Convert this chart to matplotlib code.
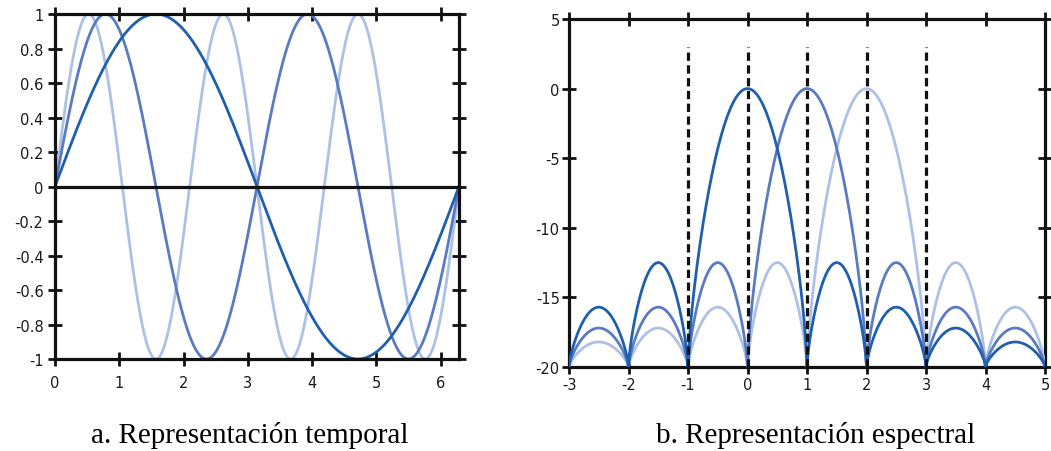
import numpy as np
import matplotlib.pyplot as plt

plt.rcParams['axes.unicode_minus'] = False
plt.rcParams['font.family'] = ['DejaVu Sans']

# señales temporales: sin(k t) para cada frecuencia
frecuencias = [1, 2, 3]
t_max = 2 * np.pi

# espectros: centro de cada lóbulo principal y niveles (dB) de los lóbulos
centros = [0, 1, 2]
niveles_lobulo = [0.0, -12.5, -15.7, -17.2, -18.2]  # principal, 1º, 2º, 3º, 4º secundario
piso_db = -20.0
lineas_guia = [-1, 0, 1, 2, 3]
tope_guia = 3.0

xt_a = [0, 1, 2, 3, 4, 5, 6]
yt_a = [-1, -0.8, -0.6, -0.4, -0.2, 0, 0.2, 0.4, 0.6, 0.8, 1]
yl_a = ['-1', '-0.8', '-0.6', '-0.4', '-0.2', '0', '0.2', '0.4', '0.6', '0.8', '1']
xt_b = [-3, -2, -1, 0, 1, 2, 3, 4, 5]
yt_b = [-20, -15, -10, -5, 0, 5]

colores = ['#1f5fae', '#5a7bc1', '#adc0e6']
grosor = 2.0


def lobulo(x0, x1, nivel, n=80):
    # arco entre dos nulos, con máximo en 'nivel'
    x = np.linspace(x0, x1, n)
    s = np.sin(np.pi * (x - x0) / (x1 - x0)).clip(0, 1) ** 0.7
    return x, piso_db + (nivel - piso_db) * s


def espectro(c, xmin, xmax):
    tramos = [lobulo(c - 1, c + 1, niveles_lobulo[0])]
    for k in range(1, len(niveles_lobulo)):
        for a in (c + k, c - k - 1):
            if a >= xmin and a + 1 <= xmax:
                tramos.append(lobulo(a, a + 1, niveles_lobulo[k]))
    tramos.sort(key=lambda p: p[0][0])
    x = np.concatenate([p[0] for p in tramos])
    y = np.concatenate([p[1] for p in tramos])
    return x, y


def estilo_ejes(ax, pad_x, pad_y):
    for s in ax.spines.values():
        s.set_linewidth(2.3)
        s.set_color('#111111')
    ax.tick_params(direction='inout', length=10.5, width=2.0, color='#111111',
                   top=True, right=True, labelsize=10.5, labelcolor='#1a1a1a')
    ax.tick_params(axis='x', pad=pad_x)
    ax.tick_params(axis='y', pad=pad_y)


fig = plt.figure(figsize=(10.51, 4.52), dpi=100)

# a. representación temporal
ax1 = fig.add_axes([0.0523, 0.2035, 0.3844, 0.7633])
t = np.linspace(0, t_max, 600)
for f, col in reversed(list(zip(frecuencias, colores))):
    ax1.plot(t, np.sin(f * t), color=col, lw=grosor, solid_capstyle='round')
ax1.axhline(0, color='#111111', lw=2.3, zorder=5)
ax1.set_xlim(0, t_max)
ax1.set_ylim(-1, 1)
ax1.set_xticks(xt_a)
ax1.set_yticks(yt_a)
ax1.set_yticklabels(yl_a)
estilo_ejes(ax1, 6, 3)

# b. representación espectral
ax2 = fig.add_axes([0.5414, 0.1858, 0.4529, 0.77])
for xg in lineas_guia:
    ax2.plot([xg, xg], [piso_db, tope_guia], color='#111111', lw=2.3,
             dashes=(2.6, 1.4), zorder=4)
for c, col in reversed(list(zip(centros, colores))):
    x, y = espectro(c, xt_b[0], xt_b[-1])
    ax2.plot(x, y, color=col, lw=grosor, zorder=3)
ax2.set_xlim(xt_b[0], xt_b[-1])
ax2.set_ylim(piso_db, 5)
ax2.set_xticks(xt_b)
ax2.set_yticks(yt_b)
estilo_ejes(ax2, 2, 1.5)

fig.text(250 / 1051, 1 - 436 / 452, 'a. Representación temporal',
         family='Liberation Serif', fontsize=21, ha='center', va='center')
fig.text(816 / 1051, 1 - 436 / 452, 'b. Representación espectral',
         family='Liberation Serif', fontsize=21, ha='center', va='center')

fig.savefig('out.png', dpi=100)
